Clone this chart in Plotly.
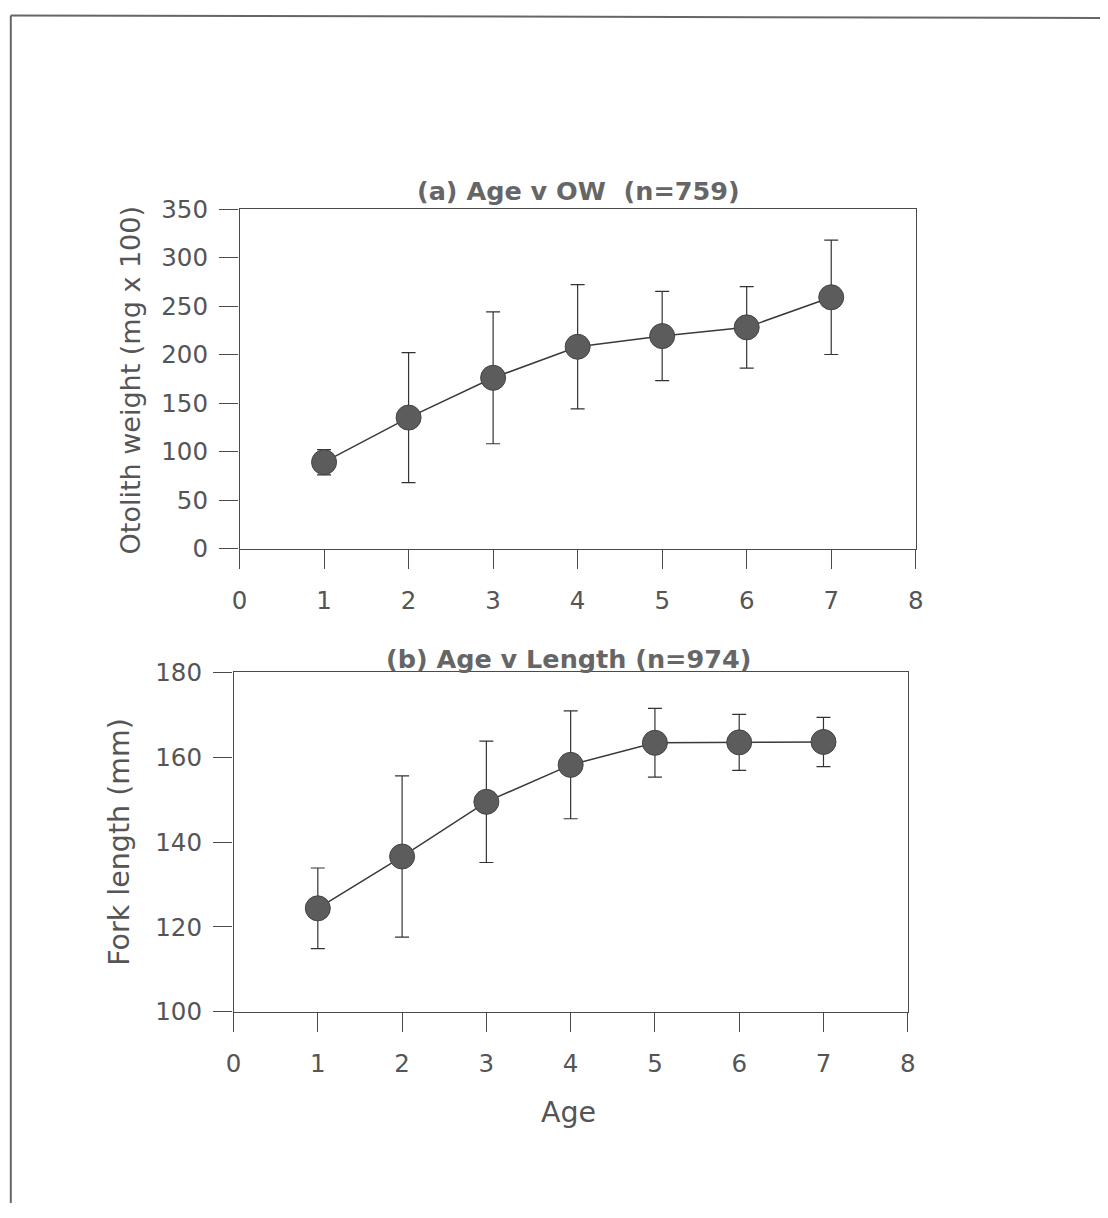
import plotly.graph_objects as go

W, H = 1108, 1218

ages = [1, 2, 3, 4, 5, 6, 7]
ow_mean = [89, 135, 176, 208, 219, 228, 259]
ow_err = [13, 67, 68, 64, 46, 42, 59]
fl_mean = [124.4, 136.6, 149.5, 158.2, 163.4, 163.5, 163.6]
fl_err = [9.5, 19, 14.3, 12.7, 8.1, 6.6, 5.8]

x_ticks = [0, 1, 2, 3, 4, 5, 6, 7, 8]
ow_ticks = [0, 50, 100, 150, 200, 250, 300, 350]
fl_ticks = [100, 120, 140, 160, 180]

title_a = "(a) Age v OW  (n=759)"
title_b = "(b) Age v Length (n=974)"
ytitle_a = "Otolith weight (mg x 100)"
ytitle_b = "Fork length (mm)"
xtitle = "Age"

FONT = "DejaVu Sans, Liberation Sans, Arial, sans-serif"
TXT = "#555555"
AX = "#4a4a4a"

# the captured picture places the page slightly inset; compensate
SX, OX = 0.9867, 7.2
SY, OY = 0.9776, 12.7


def px(x):
    return ((x - OX) / SX) / W


def py(y):
    return 1 - ((y - OY) / SY) / H


fig = go.Figure()

marker = dict(size=25, color="#5c5c5c", line=dict(color="#444444", width=1))
line = dict(color="#3a3a3a", width=1.5)

fig.add_trace(go.Scatter(
    x=ages, y=ow_mean, mode="lines+markers", marker=marker, line=line,
    error_y=dict(type="data", array=ow_err, visible=True, color="#333333",
                 thickness=1.2, width=7),
    xaxis="x", yaxis="y", showlegend=False, cliponaxis=False))

fig.add_trace(go.Scatter(
    x=ages, y=fl_mean, mode="lines+markers", marker=marker, line=line,
    error_y=dict(type="data", array=fl_err, visible=True, color="#333333",
                 thickness=1.2, width=7),
    xaxis="x2", yaxis="y2", showlegend=False, cliponaxis=False))

axis_common = dict(
    showgrid=False, zeroline=False, showline=True, linecolor=AX, linewidth=1.2,
    mirror=True, ticks="outside", ticklen=19.5, tickwidth=1.2, tickcolor=AX,
    tickfont=dict(family=FONT, size=24.5, color=TXT),
)

fig.update_layout(
    width=W, height=H,
    margin=dict(l=0, r=0, t=0, b=0),
    paper_bgcolor="white", plot_bgcolor="white",
    xaxis=dict(domain=[px(239), px(916)], anchor="y", range=[0, 8],
               tickvals=x_ticks, ticklabelstandoff=10, **axis_common),
    yaxis=dict(domain=[py(548), py(208)], anchor="x", range=[0, 350],
               tickvals=ow_ticks, ticklabelstandoff=6, **axis_common),
    xaxis2=dict(domain=[px(233), px(908)], anchor="y2", range=[0, 8],
                tickvals=x_ticks, ticklabelstandoff=10, **axis_common),
    yaxis2=dict(domain=[py(1012), py(672)], anchor="x2", range=[100, 180],
                tickvals=fl_ticks, ticklabelstandoff=6, **axis_common),
)

annotations = [
    dict(text="<b>" + title_a + "</b>", x=px(578), y=py(190),
         font=dict(family=FONT, size=25.5, color="#666666")),
    dict(text="<b>" + title_b + "</b>", x=px(568), y=py(659),
         font=dict(family=FONT, size=25.5, color="#666666")),
    dict(text=ytitle_a, x=px(130), y=py(380), textangle=-90,
         font=dict(family=FONT, size=27, color=TXT)),
    dict(text=ytitle_b, x=px(118), y=py(842), textangle=-90,
         font=dict(family=FONT, size=28.5, color=TXT)),
    dict(text=xtitle, x=px(568), y=py(1113),
         font=dict(family=FONT, size=28.5, color=TXT)),
]
for a in annotations:
    a.update(xref="paper", yref="paper", showarrow=False,
             xanchor="center", yanchor="middle")
fig.update_layout(annotations=annotations)

fig.update_layout(shapes=[
    dict(type="line", xref="paper", yref="paper", x0=px(10), y0=1 - 1.5 / H,
         x1=px(10), y1=0, line=dict(color="#666666", width=2)),
    dict(type="line", xref="paper", yref="paper", x0=px(10), y0=1 - 1.5 / H,
         x1=1, y1=1 - 4 / H, line=dict(color="#666666", width=2)),
])

fig.write_html(
    "out.html",
    config={"displayModeBar": False},
    post_script="document.body.style.margin='0';document.body.style.overflow='hidden';",
)
